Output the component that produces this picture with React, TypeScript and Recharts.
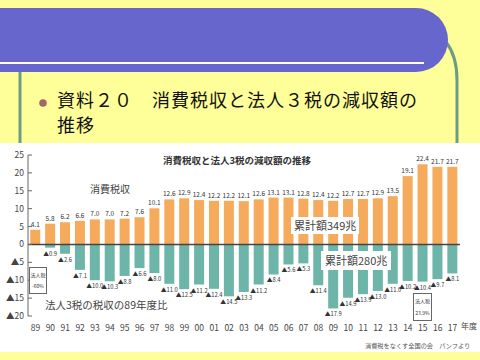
import { BarChart, Bar, XAxis, YAxis, ReferenceLine, LabelList } from 'recharts';

const YEARS = [
  '89', '90', '91', '92', '93', '94', '95', '96', '97', '98', '99', '00', '01', '02', '03',
  '04', '05', '06', '07', '08', '09', '10', '11', '12', '13', '14', '15', '16', '17',
];

// 消費税収（兆円）
const CONSUMPTION_TAX = [
  4.1, 5.8, 6.2, 6.6, 7.0, 7.0, 7.2, 7.6, 10.1, 12.6, 12.9, 12.4, 12.2, 12.2, 12.1,
  12.6, 13.1, 13.1, 12.8, 12.4, 12.2, 12.7, 12.7, 12.9, 13.5, 19.1, 22.4, 21.7, 21.7,
];

// 法人3税の減収額（89年度比、兆円）
const CORPORATE_CUT = [
  0, -0.9, -2.6, -7.1, -10.0, -10.3, -8.8, -6.6, -8.0, -11.0, -12.5, -11.2, -12.4, -14.5, -13.3,
  -11.2, -8.4, -5.6, -5.3, -11.4, -17.9, -14.9, -13.9, -13.0, -11.0, -10.2, -10.4, -9.7, -8.1,
];

const Y_TICKS = [-20, -15, -10, -5, 0, 5, 10, 15, 20, 25];

const ORANGE = '#f6aa5c';
const TEAL = '#6db5a8';
const FONT = '"Noto Sans CJK JP", "Noto Sans", sans-serif';

const data = YEARS.map((year, i) => ({
  year,
  tax: CONSUMPTION_TAX[i],
  cut: CORPORATE_CUT[i],
}));

const fmtY = (v: number) => (v < 0 ? '▲' + -v : String(v));

function YTick({ x, y, payload }: any) {
  return (
    <g>
      <text x={x} y={y} dy={3} textAnchor="end" fontSize={8.5} fill="#444" fontFamily={FONT}>
        {fmtY(payload.value)}
      </text>
      <line x1={x + 4} x2={x + 8} y1={y} y2={y} stroke="#666" />
    </g>
  );
}

// label under the end of a negative bar
function CutLabel({ x, y, width, height, value }: any) {
  const v = Number(value);
  if (!v) return null;
  const bottom = Math.max(Number(y), Number(y) + Number(height));
  return (
    <text
      x={Number(x) + Number(width) / 2}
      y={bottom + 8}
      textAnchor="middle"
      fontSize={5.8}
      fill="#333"
      fontFamily={FONT}
    >
      {'▲' + (-v).toFixed(1)}
    </text>
  );
}

const abs = (left: number, top: number, extra: any = {}) => ({
  position: 'absolute' as const,
  left,
  top,
  fontFamily: FONT,
  whiteSpace: 'nowrap' as const,
  ...extra,
});

export default function App() {
  return (
    <div
      style={{
        position: 'fixed',
        left: 0,
        top: 0,
        width: 480,
        height: 360,
        background: '#ffff99',
        overflow: 'hidden',
        fontFamily: FONT,
      }}
    >
      {/* slide header */}
      <svg width={480} height={150} style={{ position: 'absolute', left: 0, top: 0 }}>
        <line x1={20} x2={20} y1={70} y2={150} stroke="#6c9c86" strokeWidth={3} />
        <path d="M 446 42 Q 457 56 457 80 L 457 150" fill="none" stroke="#6c9c86" strokeWidth={3} />
        <path d="M -10 8 L 416 8 A 32 32 0 0 1 416 72 L -10 72 Z" fill="#6666cc" />
        <rect x={0} y={62} width={424} height={2} fill="#ffffff" />
        <circle cx={43} cy={103} r={3.8} fill="#a06868" />
      </svg>
      <div style={abs(57, 87, { fontSize: 18, letterSpacing: 1, lineHeight: '25px', color: '#111' })}>
        資料２０　消費税収と法人３税の減収額の
        <br />
        推移
      </div>

      {/* chart panel */}
      <div style={{ position: 'absolute', left: 0, top: 143, width: 480, height: 209, background: '#fff' }}>
        <BarChart
          width={480}
          height={209}
          data={data}
          stackOffset="sign"
          margin={{ top: 12, right: 20, bottom: 16, left: 0 }}
          barCategoryGap="15%"
        >
          <XAxis
            dataKey="year"
            axisLine={false}
            tickLine={false}
            height={20}
            tickMargin={3}
            tick={{ fontSize: 8.5, fill: '#444', fontFamily: FONT }}
            interval={0}
          />
          <YAxis
            width={28}
            domain={[-20, 25]}
            ticks={Y_TICKS}
            interval={0}
            tickLine={false}
            tickSize={0}
            tickMargin={4}
            axisLine={{ stroke: '#666' }}
            tick={<YTick />}
            allowDataOverflow
          />
          <Bar dataKey="tax" stackId="a" fill={ORANGE} isAnimationActive={false}>
            <LabelList
              dataKey="tax"
              position="top"
              offset={3}
              fontSize={6.5}
              fill="#333"
              fontFamily={FONT}
              formatter={(v: any) => Number(v).toFixed(1)}
            />
          </Bar>
          <Bar dataKey="cut" stackId="a" fill={TEAL} isAnimationActive={false}>
            <LabelList dataKey="cut" content={<CutLabel />} />
          </Bar>
          <ReferenceLine y={0} stroke="#444" strokeWidth={1.5} />
        </BarChart>
      </div>

      {/* chart annotations */}
      <div style={abs(163, 153, { fontSize: 9.5, fontWeight: 'bold', color: '#333' })}>
        消費税収と法人3税の減収額の推移
      </div>
      <div style={abs(90, 181, { fontSize: 10, color: '#444' })}>消費税収</div>
      <div
        style={abs(291, 217, {
          fontSize: 11,
          color: '#444',
          background: '#fff',
          padding: '1px 3px',
          lineHeight: '15px',
        })}
      >
        累計額349兆
      </div>
      <div
        style={abs(321, 251, {
          fontSize: 11,
          color: '#444',
          background: '#fff',
          padding: '2px 4px',
          lineHeight: '15px',
        })}
      >
        累計額280兆
      </div>
      <div style={abs(45, 298, { fontSize: 10.5, lineHeight: '14px', color: '#444' })}>
        法人3税の税収の89年度比
      </div>
      <div
        style={abs(29, 267, {
          width: 18,
          height: 27,
          border: '1px solid #666',
          background: '#fff',
          fontSize: 5,
          color: '#333',
          textAlign: 'center',
          lineHeight: '11px',
          paddingTop: 1,
          boxSizing: 'border-box',
        })}
      >
        法人税
        <br />
        -60%
      </div>
      <div
        style={abs(413, 293, {
          width: 19,
          height: 28,
          border: '1px solid #666',
          background: '#fff',
          fontSize: 5,
          color: '#333',
          textAlign: 'center',
          lineHeight: '12px',
          paddingTop: 1,
          boxSizing: 'border-box',
        })}
      >
        法人税
        <br />
        23.9%
      </div>
      <div style={abs(461, 320, { fontSize: 8, color: '#444' })}>年度</div>
      <div style={abs(365, 341, { fontSize: 6.2, color: '#555' })}>消費税をなくす全国の会　パンフより</div>
    </div>
  );
}
